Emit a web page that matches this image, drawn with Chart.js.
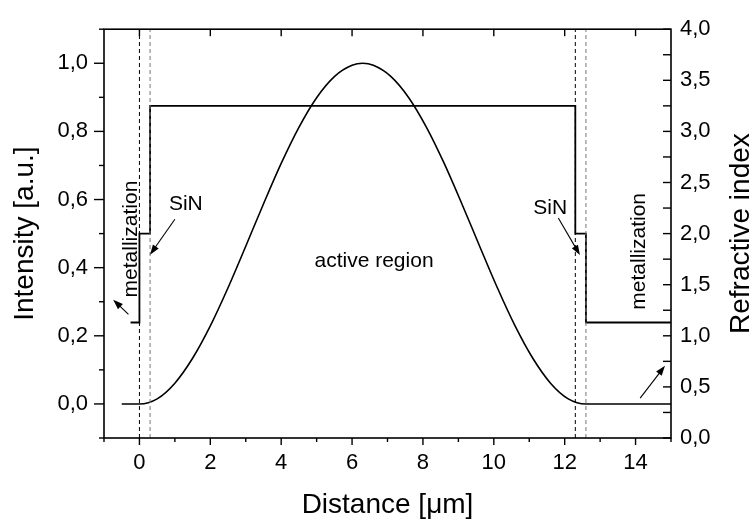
<!DOCTYPE html>
<html>
<head>
<meta charset="utf-8">
<script src="https://cdn.jsdelivr.net/npm/chart.js@4.4.1/dist/chart.umd.min.js"></script>
<style>
  html, body { margin: 0; padding: 0; background: #fff; }
</style>
</head>
<body>
<canvas id="chart" width="755" height="523"></canvas>
<script>
// mode intensity profile (left axis)
const distance = [-0.5, 0, 0.5, 1, 1.5, 2, 2.5, 3, 3.5, 4, 4.5, 5, 5.5, 6, 6.3,
                  6.6, 7.1, 7.6, 8.1, 8.6, 9.1, 9.6, 10.1, 10.6, 11.1, 11.6, 12.1, 12.6, 13.8, 15];
const intensity = [0, 0, 0.015, 0.061, 0.134, 0.229, 0.341, 0.463, 0.587, 0.706, 0.812, 0.899, 0.961, 0.994, 1.0,
                   0.994, 0.961, 0.899, 0.812, 0.706, 0.587, 0.463, 0.341, 0.229, 0.134, 0.061, 0.015, 0, 0, 0];

// refractive index steps (right axis)
const indexX = [-0.25, 0, 0, 0.3, 0.3, 12.3, 12.3, 12.6, 12.6, 15];
const indexN = [1.13, 1.13, 2.0, 2.0, 3.25, 3.25, 2.0, 2.0, 1.13, 1.13];

// layer boundaries (dashed)
const layerEdges = [0, 0.3, 12.3, 12.6];

// ticks
const xTicks = [0, 2, 4, 6, 8, 10, 12, 14];
const xMinorTicks = [-1, 1, 3, 5, 7, 9, 11, 13, 15];
const intensityTicks = [0, 0.2, 0.4, 0.6, 0.8, 1.0];
const intensityMinor = [-0.1, 0.1, 0.3, 0.5, 0.7, 0.9, 1.1];
const indexTicks = [0, 0.5, 1.0, 1.5, 2.0, 2.5, 3.0, 3.5, 4.0];
const indexMinor = [0.25, 0.75, 1.25, 1.75, 2.25, 2.75, 3.25, 3.75];

// labels on the plot
const notes = [
  { text: 'metallization', x: -0.24, y: 0.484, rot: -90 },
  { text: 'SiN', x: 1.31, y: 0.586, rot: 0 },
  { text: 'active region', x: 6.62, y: 0.419, rot: 0 },
  { text: 'SiN', x: 11.59, y: 0.574, rot: 0 },
  { text: 'metallization', x: 14.10, y: 0.448, rot: -90 }
];
const arrows = [
  [-0.31, 0.263, -0.74, 0.306],
  [1.0, 0.542, 0.30, 0.438],
  [11.82, 0.546, 12.43, 0.437],
  [14.13, 0.017, 14.83, 0.112]
];

const FONT = "'Liberation Sans', Arial, sans-serif";
const comma = v => v.toFixed(1).replace('.', ',');

const datasets = [];
layerEdges.forEach((e, i) => {
  datasets.push({
    data: [{ x: e, y: -0.1 }, { x: e, y: 1.1 }],
    yAxisID: 'y',
    borderColor: i % 2 === 0 ? '#000' : '#777',
    borderWidth: 1,
    borderDash: [4, 3],
    pointRadius: 0
  });
});
datasets.push({
  data: distance.map((d, i) => ({ x: d, y: intensity[i] })),
  yAxisID: 'y',
  borderColor: '#000',
  borderWidth: 1.6,
  pointRadius: 0,
  cubicInterpolationMode: 'monotone'
});
datasets.push({
  data: indexX.map((d, i) => ({ x: d, y: indexN[i] })),
  yAxisID: 'y2',
  borderColor: '#000',
  borderWidth: 1.8,
  pointRadius: 0
});

const frame = {
  id: 'frame',
  afterDraw(chart) {
    const ctx = chart.ctx;
    const a = chart.chartArea;
    const sx = chart.scales.x, sy = chart.scales.y, sy2 = chart.scales.y2;
    ctx.save();
    ctx.strokeStyle = '#000';
    ctx.lineWidth = 1.6;
    ctx.strokeRect(a.left, a.top, a.right - a.left, a.bottom - a.top);
    ctx.lineWidth = 1.4;
    const line = (x1, y1, x2, y2) => { ctx.beginPath(); ctx.moveTo(x1, y1); ctx.lineTo(x2, y2); ctx.stroke(); };
    xTicks.forEach(v => { const p = sx.getPixelForValue(v); line(p, a.bottom, p, a.bottom + 7); line(p, a.top, p, a.top + 7); });
    xMinorTicks.forEach(v => { const p = sx.getPixelForValue(v); line(p, a.bottom, p, a.bottom + 4); });
    intensityTicks.forEach(v => { const p = sy.getPixelForValue(v); line(a.left - 10, p, a.left, p); });
    intensityMinor.forEach(v => { const p = sy.getPixelForValue(v); line(a.left - 5, p, a.left, p); });
    indexTicks.forEach(v => { const p = sy2.getPixelForValue(v); line(a.right - 8, p, a.right, p); });
    indexMinor.forEach(v => { const p = sy2.getPixelForValue(v); line(a.right - 8, p, a.right, p); });

    ctx.fillStyle = '#000';
    ctx.textAlign = 'center';
    ctx.textBaseline = 'middle';

    // right axis title, reading bottom to top
    ctx.save();
    ctx.font = '28px ' + FONT;
    ctx.translate(741, (a.top + a.bottom) / 2);
    ctx.rotate(-Math.PI / 2);
    ctx.fillText('Refractive index', 0, 0);
    ctx.restore();

    // annotations
    ctx.font = '21px ' + FONT;
    notes.forEach(n => {
      ctx.save();
      ctx.translate(sx.getPixelForValue(n.x), sy.getPixelForValue(n.y));
      ctx.rotate(n.rot * Math.PI / 180);
      ctx.fillText(n.text, 0, 0);
      ctx.restore();
    });
    ctx.lineWidth = 1.1;
    arrows.forEach(([x1, y1, x2, y2]) => {
      const p1x = sx.getPixelForValue(x1), p1y = sy.getPixelForValue(y1);
      const p2x = sx.getPixelForValue(x2), p2y = sy.getPixelForValue(y2);
      const ang = Math.atan2(p2y - p1y, p2x - p1x);
      line(p1x, p1y, p2x - 6 * Math.cos(ang), p2y - 6 * Math.sin(ang));
      ctx.beginPath();
      ctx.moveTo(p2x, p2y);
      ctx.lineTo(p2x - 10 * Math.cos(ang) + 3.5 * Math.sin(ang), p2y - 10 * Math.sin(ang) - 3.5 * Math.cos(ang));
      ctx.lineTo(p2x - 10 * Math.cos(ang) - 3.5 * Math.sin(ang), p2y - 10 * Math.sin(ang) + 3.5 * Math.cos(ang));
      ctx.closePath();
      ctx.fill();
    });
    ctx.restore();
  }
};

new Chart(document.getElementById('chart'), {
  type: 'line',
  data: { datasets },
  options: {
    responsive: false,
    animation: false,
    layout: { padding: { top: 15, left: 0, right: 0, bottom: 0 } },
    plugins: { legend: { display: false }, tooltip: { enabled: false } },
    scales: {
      x: {
        type: 'linear', min: -1, max: 15,
        afterBuildTicks: s => { s.ticks = xTicks.map(v => ({ value: v })); },
        afterFit: s => { s.height = 85; },
        grid: { display: false, drawTicks: false },
        border: { display: false },
        ticks: { color: '#000', font: { family: FONT, size: 22 }, padding: 12, maxRotation: 0,
                 callback: v => String(v) },
        title: { display: true, text: 'Distance [μm]', color: '#000',
                 font: { family: FONT, size: 28 }, padding: { bottom: 1 } }
      },
      y: {
        type: 'linear', position: 'left', min: -0.1, max: 1.1,
        afterBuildTicks: s => { s.ticks = intensityTicks.map(v => ({ value: v })); },
        afterFit: s => { s.width = 104; },
        grid: { display: false, drawTicks: false },
        border: { display: false },
        ticks: { color: '#000', font: { family: FONT, size: 22 }, padding: 16, callback: comma },
        title: { display: true, text: 'Intensity [a.u.]', color: '#000',
                 font: { family: FONT, size: 28 }, padding: { top: 8 } }
      },
      y2: {
        type: 'linear', position: 'right', min: 0, max: 4,
        afterBuildTicks: s => { s.ticks = indexTicks.map(v => ({ value: v })); },
        afterFit: s => { s.width = 84; },
        grid: { display: false, drawTicks: false },
        border: { display: false },
        ticks: { color: '#000', font: { family: FONT, size: 22 }, padding: 9, callback: comma }
      }
    }
  },
  plugins: [frame]
});
</script>
</body>
</html>
